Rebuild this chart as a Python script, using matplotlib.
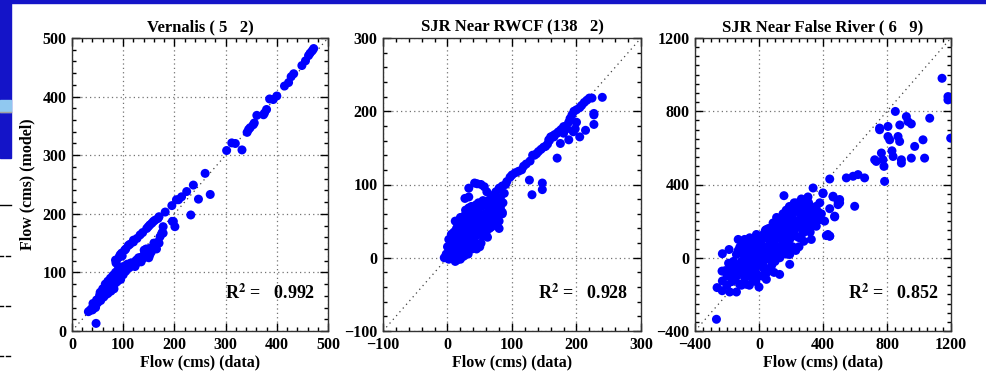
import matplotlib
matplotlib.use('Agg')
from matplotlib import pyplot as plt
from matplotlib.patches import Rectangle
from matplotlib.lines import Line2D
from matplotlib.ticker import MultipleLocator

plt.rcParams['font.family'] = ['Liberation Serif', 'DejaVu Serif']
plt.rcParams['font.weight'] = 'bold'

titles = ['Vernalis ( 5   2)', 'SJR Near RWCF (138   2)', 'SJR Near False River ( 6   9)']
r2_vals = [0.992, 0.928, 0.852]
limits = [(0, 500), (-100, 300), (-400, 1200)]
major_step = [100, 100, 400]
minor_step = [20, 20, 50]

# (data, model) pairs for each station
vernalis = [
    (472, 482), (469, 478), (465, 474), (462, 470), (456, 461), (449, 453), (433, 439),
    (428, 434), (423, 424), (415, 418), (400, 401), (393, 395), (386, 396), (380, 378),
    (376, 372), (374, 369), (361, 368), (356, 355), (354, 352), (348, 347), (345, 344),
    (342, 339), (332, 309), (319, 320), (312, 321), (302, 308),
    (270, 233), (260, 269), (247, 225), (237, 249), (232, 198), (224, 238), (214, 229),
    (208, 224), (204, 224), (195, 214), (201, 178), (198, 187), (196, 187), (182, 203),
    (178, 178), (178, 167), (172, 161), (170, 195), (168, 192), (168, 152), (162, 189),
    (162, 147), (159, 187), (152, 181), (152, 141), (152, 130), (149, 178), (146, 175),
    (142, 135), (141, 138), (139, 124), (133, 164), (126, 121), (123, 110), (120, 152),
    (120, 155), (116, 116), (110, 146), (107, 110), (103, 138), (100, 104), (97, 133),
    (94, 98), (94, 130), (87, 121), (87, 92), (86, 116), (85, 121), (80, 87), (74, 81),
    (67, 75), (61, 70), (54, 61), (48, 53), (41, 47), (35, 35), (32, 33), (47, 13),
    (60, 72), (65, 80), (70, 85), (72, 78), (75, 90), (78, 82), (80, 95), (85, 100),
    (88, 90), (90, 105), (92, 98), (95, 108), (98, 100), (100, 110), (105, 102), (62, 58),
    (55, 66), (58, 60), (52, 55), (50, 48), (45, 45), (42, 40), (38, 38), (68, 70),
    (73, 72), (78, 76), (83, 80), (88, 84), (70, 64), (64, 68), (108, 114), (112, 108),
    (115, 116), (118, 112), (125, 120), (130, 118), (135, 126), (150, 125), (155, 135),
    (165, 140), (160, 150), (170, 150), (135, 118), (140, 128), (130, 125), (125, 115),
    (145, 140), (176, 168), (90, 92), (95, 88), (100, 96), (82, 72), (76, 68), (66, 62),
    (56, 52), (46, 40), (40, 36),
    (92, 126), (98, 128), (105, 140), (113, 148), (127, 158), (138, 168), (156, 184),
]

rwcf = [
    (-5, 0), (0, 3), (2, -2), (5, 8), (8, 5), (10, 15), (12, -5), (15, -3), (15, 10),
    (18, 20), (20, 5), (22, 28), (25, 15), (25, 35), (28, 22), (30, 10), (30, 40), (32, 30),
    (35, 18), (35, 45), (38, 36), (40, 25), (40, 55), (42, 48), (45, 30), (45, 62), (48, 40),
    (50, 55), (52, 20), (52, 70), (55, 45), (58, 60), (60, 35), (60, 72), (62, 50), (65, 65),
    (68, 55), (70, 72), (72, 45), (75, 62), (78, 70), (80, 50), (82, 68), (85, 60), (80, 40),
    (5, 20), (8, 28), (10, 35), (12, 30), (15, 25), (18, 35), (20, 40), (22, 15), (25, 45),
    (28, 8), (30, 52), (32, 5), (35, 60), (38, 12), (40, 65), (10, 0), (20, -2), (25, 2),
    (3, 12), (6, -1), (14, 40), (16, 45), (18, 12), (24, 50), (27, 58), (33, 68), (37, 70),
    (44, 72), (48, 75), (55, 78), (58, 72), (63, 78), (67, 80), (70, 85), (75, 90), (80, 95),
    (85, 98), (72, 60), (65, 40), (55, 30), (50, 15), (45, 12), (42, 20), (0, 15), (-2, 5),
    (2, 25), (8, 18), (14, 8), (28, 30), (36, 40), (46, 50), (54, 58), (62, 62), (66, 68),
    (76, 78), (74, 52), (86, 75), (85, 62), (82, 82), (88, 88),
    (42, 102), (46, 101), (52, 100), (57, 97), (61, 90), (27, 81), (33, 83), (33, 95),
    (90, 100), (92, 104), (97, 110), (100, 113), (105, 116), (110, 118), (115, 120),
    (118, 125), (122, 128), (128, 132), (132, 140), (135, 140), (138, 142), (141, 145),
    (145, 148), (149, 151), (152, 152), (155, 155), (158, 160), (160, 165), (163, 166),
    (166, 168), (170, 170), (172, 172), (176, 175), (180, 179), (184, 180), (188, 185),
    (190, 190), (193, 195), (196, 200), (200, 202), (205, 205), (208, 208), (212, 212),
    (216, 215), (220, 218), (224, 218), (240, 219), (227, 197), (227, 195), (227, 182),
    (214, 174), (198, 176), (185, 176), (188, 161), (175, 156), (165, 165), (170, 136),
    (157, 161), (180, 170), (195, 172), (205, 165), (200, 185),
    (127, 106), (147, 102), (147, 93), (131, 86),
    (12, 50), (20, 55), (28, 65), (38, 48), (48, 62), (58, 48), (68, 42), (78, 58),
    (6, 32), (16, 16), (26, 24), (36, 28), (44, 40), (52, 36), (62, 28), (70, 62),
]

false_river = [
    (1144, 980), (1181, 880), (1181, 862), (1198, 653), (1067, 762), (1025, 644), (1035, 544),
    (973, 608), (952, 544), (852, 799), (880, 725), (921, 771), (931, 744), (952, 731),
    (806, 717), (806, 662), (817, 644), (869, 662), (879, 635), (754, 699), (754, 708),
    (765, 572), (775, 535), (781, 499), (785, 417), (831, 584), (838, 553), (890, 535),
    (890, 517), (723, 535), (733, 526), (660, 436), (619, 454), (588, 445), (546, 436),
    (442, 430), (598, 281), (504, 318), (494, 290), (504, 300), (463, 336), (473, 227),
    (442, 118), (431, 127), (400, 354), (338, 381), (156, 339),
    (-266, -336), (-262, -163), (-229, -127), (-231, -73), (-229, 22), (-187, 45),
    (-183, -187), (-141, -187), (0, -160), (400, 350), (463, 332), (494, 308), (473, 223),
    (442, 268), (421, 121), (442, 118), (327, 100), (265, 321), (306, 332), (192, 263),
    (233, 299), (192, -36), (129, -91), (94, -80), (-58, 109), (-100, 82), (-120, 58),
    (-141, 18), (-141, -46), (-162, -91), (-121, -145), (-79, -145), (-38, -118), (46, -118),
    (88, 27), (150, 27), (192, 18), (-16, 127), (46, 154), (88, 190), (129, 208), (171, 227),
    (254, 245), (296, 208), (338, 208), (317, 154), (275, 136), (233, 118), (192, 100),
    (150, 154), (108, 136), (67, 100), (25, 63), (-17, 27), (-58, -9), (-100, -46),
    (-79, -82), (-17, -46), (25, -27), (67, -9), (108, 63), (150, 100), (192, 154),
    (213, 208), (254, 172), (317, 245), (358, 281), (379, 208), (358, 172),
    (-200, -100), (-180, -60), (-160, -20), (-150, -120), (-120, -80), (-110, -20),
    (-100, 20), (-90, -110), (-80, 40), (-70, -60), (-60, 60), (-50, -30), (-40, 0),
    (-30, 80), (-20, -80), (-10, 40), (0, 0), (10, -40), (20, 100), (30, 20), (40, -60),
    (50, 60), (60, 120), (70, 30), (80, -40), (90, 80), (100, 170), (110, 20), (120, 110),
    (130, 60), (140, 180), (150, 240), (160, 130), (170, 70), (180, 200), (190, 280),
    (200, 150), (210, 240), (220, 180), (230, 260), (240, 200), (250, 300), (260, 220),
    (270, 170), (280, 260), (290, 180), (300, 280), (310, 240), (320, 200), (340, 270),
    (350, 230), (370, 250), (380, 300), (-130, 100), (-90, 100), (-110, -150), (-60, -150),
    (-20, -130), (20, -100), (60, -60), (100, -20), (140, 50), (180, 120), (-200, -150),
    (-230, -180), (-170, -50), (0, 60), (30, 130), (-40, -60), (10, -10), (50, 20),
    (90, 120), (130, 0), (170, 20), (210, 120), (250, 60), (280, 90), (230, 40),
    (-190, -30), (-170, -130), (-140, -100), (-130, 40), (-110, 60), (-90, -10),
    (-80, -30), (-70, 10), (-60, -100), (-50, 90), (-40, -90), (-30, 30), (-20, -20),
    (-10, 100), (0, -100), (10, 70), (20, 0), (30, -60), (40, 150), (40, 40), (50, -80),
    (60, 10), (70, 80), (80, 150), (90, -10), (100, 60), (110, 220), (120, 40), (130, 150),
    (140, 100), (150, 200), (160, 60), (170, 260), (180, 160), (190, 60), (200, 220),
    (210, 60), (220, 300), (230, 160), (240, 260), (250, 110), (260, 180), (270, 300),
    (280, 140), (290, 240), (300, 160), (310, 300), (320, 140), (330, 260), (340, 190),
    (360, 220), (390, 240), (410, 200), (-50, 40), (-80, -80), (-20, 60), (20, 40),
    (60, 160), (100, 100), (140, 140), (200, 190), (260, 260), (-150, -70), (-210, -70),
]

stations = [vernalis, rwcf, false_river]

W, H = 987, 374
fig = plt.figure(figsize=(W / 100, H / 100), dpi=100)

# slide decoration: top bar and left strip
blue = '#1414c8'
fig.patches.append(Rectangle((0, 1 - 3 / H), 1, 3 / H, transform=fig.transFigure, color=blue, zorder=0))
fig.patches.append(Rectangle((0, 1 - 158 / H), 11 / W, 158 / H, transform=fig.transFigure, color=blue, zorder=0))
fig.patches.append(Rectangle((0, 1 - 112 / H), 11 / W, 12 / H, transform=fig.transFigure, color='#90c8f0', zorder=1))
fig.lines.append(Line2D([0, 11 / W], [1 - 112 / H] * 2, transform=fig.transFigure, color='#a0a0a0', lw=1))
fig.lines.append(Line2D([0, 11 / W], [1 - 205 / H] * 2, transform=fig.transFigure, color='k', lw=1))
for yy in [256, 306, 356]:
    fig.lines.append(Line2D([0, 3 / W], [1 - yy / H] * 2, transform=fig.transFigure, color='k', lw=1))
    fig.lines.append(Line2D([6 / W, 10 / W], [1 - yy / H] * 2, transform=fig.transFigure, color='k', lw=1))

lefts = [72, 383, 695]
widths = [256, 258, 256]
bottom = 1 - 331 / H
height = (331 - 38) / H

for i in range(3):
    ax = fig.add_axes([lefts[i] / W, bottom, widths[i] / W, height])
    lo, hi = limits[i]
    xs = [p[0] for p in stations[i]]
    ys = [p[1] for p in stations[i]]
    ax.plot([lo, hi], [lo, hi], color='0.25', ls=(0, (1, 3)), lw=0.9, zorder=2)
    ax.scatter(xs, ys, s=42, color='#0000ff', edgecolors='none', zorder=3)
    ax.set_xlim(lo, hi)
    ax.set_ylim(lo, hi)
    ax.xaxis.set_major_locator(MultipleLocator(major_step[i]))
    ax.yaxis.set_major_locator(MultipleLocator(major_step[i]))
    ax.xaxis.set_minor_locator(MultipleLocator(minor_step[i]))
    ax.yaxis.set_minor_locator(MultipleLocator(minor_step[i]))
    ax.tick_params(which='both', direction='in', top=True, right=True, labelsize=11.5, width=1)
    ax.tick_params(which='major', length=6, pad=4)
    ax.tick_params(which='minor', length=3)
    ax.grid(True, which='major', color='0.45', ls=(0, (1, 2.5)), lw=0.9)
    for sp in ax.spines.values():
        sp.set_linewidth(1)
        sp.set_color('0.2')
    ax.set_title(titles[i], fontsize=12, fontweight='bold', pad=5)
    ax.set_xlabel('Flow (cms) (data)', fontsize=11.5, fontweight='bold', labelpad=1)
    if i == 0:
        ax.set_ylabel('Flow (cms) (model)', fontsize=11.5, fontweight='bold', labelpad=5)
    ax.text(0.95, 0.13, 'R$^2$ =   %.3f' % r2_vals[i], transform=ax.transAxes,
            ha='right', va='center', fontsize=13, fontweight='bold',
            math_fontfamily='stix')

fig.savefig('out.png', dpi=100)
